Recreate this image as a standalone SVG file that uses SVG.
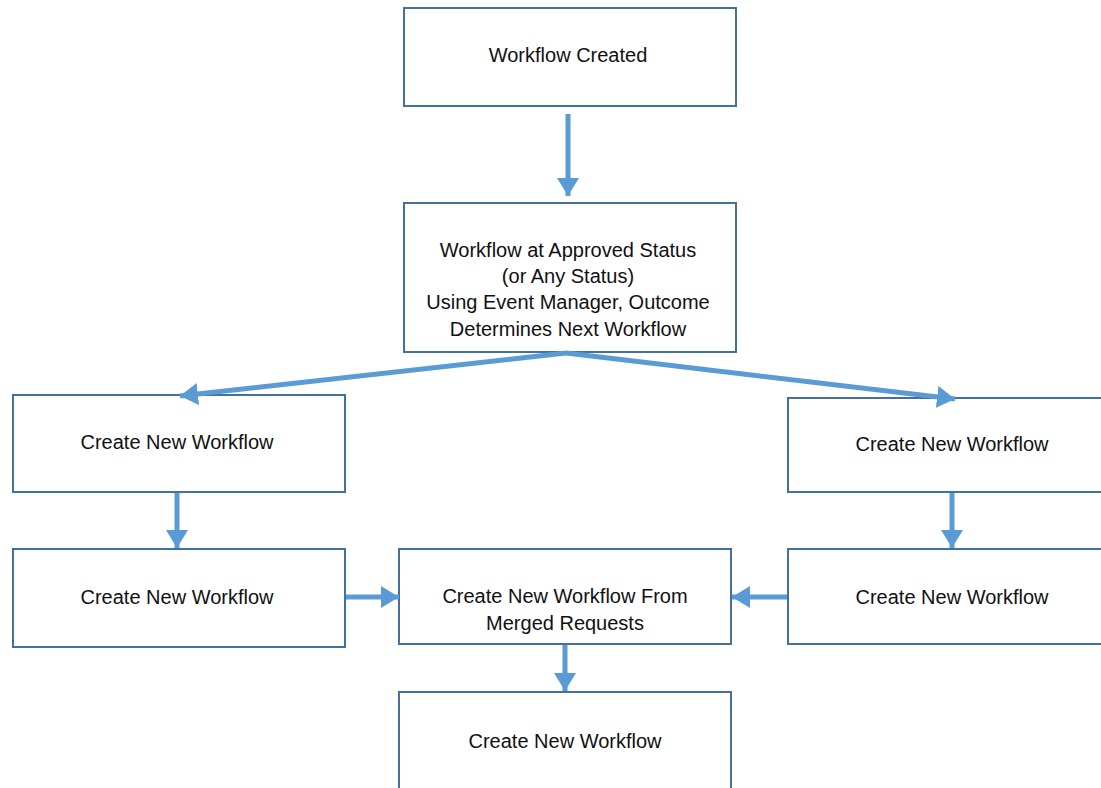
<svg xmlns="http://www.w3.org/2000/svg" width="1101" height="788" viewBox="0 0 1101 788">
<style>
.box{fill:#fff;stroke:#41719C;stroke-width:2}
.t{font-family:"Liberation Sans",Arial,sans-serif;font-size:20px;fill:#111;text-anchor:middle}
.c{stroke:#5B9BD5;stroke-width:5;fill:none}
</style>
<defs>
<marker id="ah" markerUnits="userSpaceOnUse" markerWidth="20" markerHeight="22" refX="18" refY="11" orient="auto">
<path d="M0,0 L18,11 L0,22 Z" fill="#5B9BD5"/>
</marker>
</defs>
<rect width="1101" height="788" fill="#fff"/>
<g id="n1"><rect class="box" x="404" y="8" width="332" height="98"/><text class="t" x="568" y="62">Workflow Created</text></g>
<g id="n2"><rect class="box" x="404" y="203" width="332" height="149"/>
<text class="t" x="568" y="257">Workflow at Approved Status</text>
<text class="t" x="568" y="283">(or Any Status)</text>
<text class="t" x="568" y="309">Using Event Manager, Outcome</text>
<text class="t" x="568" y="336">Determines Next Workflow</text></g>
<g id="n3"><rect class="box" x="13" y="395" width="332" height="97"/><text class="t" x="177" y="449">Create New Workflow</text></g>
<g id="n4"><rect class="box" x="788" y="398" width="320" height="94"/><text class="t" x="952" y="451">Create New Workflow</text></g>
<g id="n5"><rect class="box" x="13" y="549" width="332" height="98"/><text class="t" x="177" y="604">Create New Workflow</text></g>
<g id="n6"><rect class="box" x="788" y="549" width="320" height="95"/><text class="t" x="952" y="604">Create New Workflow</text></g>
<g id="n7"><rect class="box" x="399" y="549" width="332" height="95"/>
<text class="t" x="565" y="603">Create New Workflow From</text>
<text class="t" x="565" y="630">Merged Requests</text></g>
<g id="n8"><rect class="box" x="399" y="692" width="332" height="105"/><text class="t" x="565" y="748">Create New Workflow</text></g>
<g id="connectors">
<line class="c" x1="568" y1="114" x2="568" y2="196" marker-end="url(#ah)"/>
<line class="c" x1="566" y1="353" x2="180" y2="396" marker-end="url(#ah)"/>
<line class="c" x1="566" y1="353" x2="955" y2="399" marker-end="url(#ah)"/>
<line class="c" x1="177" y1="493" x2="177" y2="548" marker-end="url(#ah)"/>
<line class="c" x1="952" y1="493" x2="952" y2="548" marker-end="url(#ah)"/>
<line class="c" x1="346" y1="597" x2="399" y2="597" marker-end="url(#ah)"/>
<line class="c" x1="787" y1="597" x2="732" y2="597" marker-end="url(#ah)"/>
<line class="c" x1="565" y1="645" x2="565" y2="691" marker-end="url(#ah)"/>
</g>
</svg>
